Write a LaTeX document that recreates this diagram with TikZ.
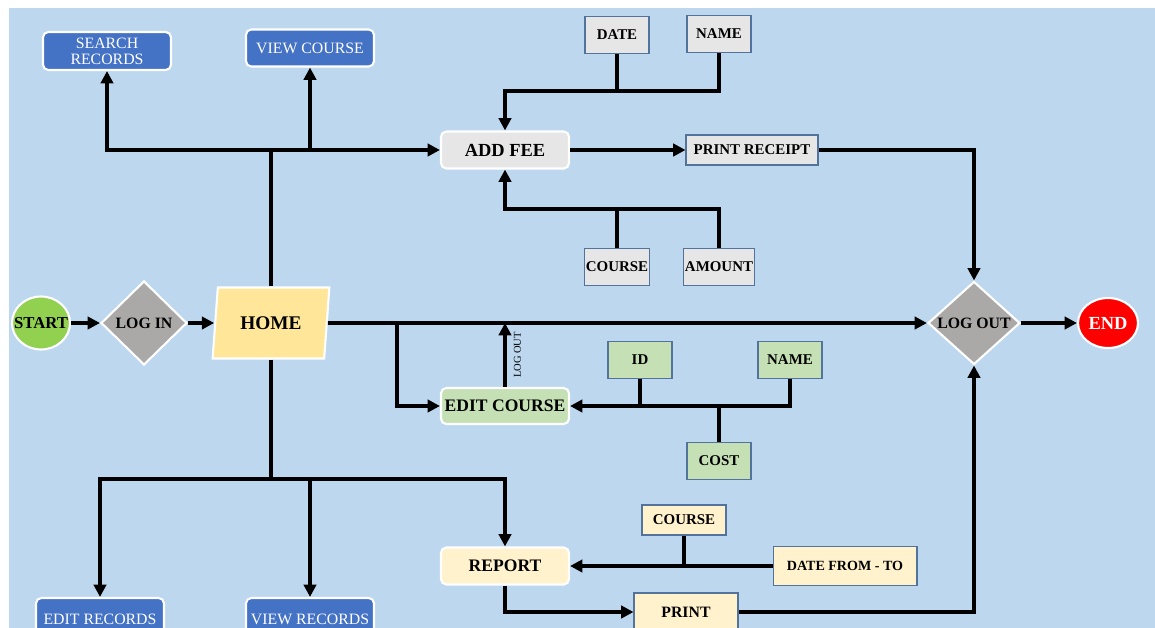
\documentclass[tikz,border=0pt]{standalone}
\usepackage{fontspec}
\setmainfont{Liberation Serif}
\usetikzlibrary{shapes.geometric, arrows.meta}

\definecolor{bgblue}{HTML}{BDD7EE}
\definecolor{boxblue}{HTML}{4472C4}
\definecolor{feegray}{HTML}{E7E6E6}
\definecolor{fieldedge}{HTML}{52739C}
\definecolor{diagray}{HTML}{ABA8A8}
\definecolor{startgreen}{HTML}{92D050}
\definecolor{homeyellow}{HTML}{FFE699}
\definecolor{editgreen}{HTML}{C5E0B4}
\definecolor{repcream}{HTML}{FFF2CC}
\definecolor{endred}{HTML}{FF0000}

\begin{document}
\begin{tikzpicture}[x=0.02cm, y=-0.02cm,
  link/.style={line width=2pt},
  arr/.style={link, -{Triangle[length=7pt, width=7pt]}},
  bluebox/.style={rectangle, rounded corners=3pt, draw=white, line width=1.2pt, fill=boxblue, text=white,
    minimum width=2.56cm, minimum height=0.76cm, inner sep=1pt, align=center, font=\fontsize{9}{9}\selectfont},
  procbox/.style={rectangle, rounded corners=3pt, draw=white, line width=1.2pt,
    minimum width=2.56cm, minimum height=0.74cm, inner sep=1pt, font=\fontsize{10}{12}\selectfont\bfseries},
  fieldbox/.style={rectangle, draw=fieldedge, line width=0.6pt,
    minimum width=1.28cm, minimum height=0.74cm, inner sep=1pt, font=\fontsize{8.5}{10}\selectfont\bfseries},
  decision/.style={diamond, aspect=1.1, draw=white, line width=1.2pt, fill=diagray, inner sep=0pt,
    font=\fontsize{9}{10}\selectfont\bfseries},
  terminal/.style={ellipse, draw=white, line width=1.2pt, inner sep=0pt, font=\bfseries}]

\clip (0,0) rectangle (1155,628);
\fill[white] (0,0) rectangle (1155,628);
\fill[bgblue] (9,8) rectangle (1155,628);

% main line
\node[terminal, fill=startgreen, minimum width=1.16cm, minimum height=1.06cm,
  font=\fontsize{9.5}{10}\selectfont\bfseries] (start) at (41,323) {\makebox[0pt]{START}};
\node[decision, minimum width=1.72cm, minimum height=1.68cm] (login) at (144,323) {LOG IN};
\node[trapezium, trapezium left angle=77, trapezium right angle=103, trapezium stretches=true,
  minimum width=2.34cm, minimum height=1.42cm, draw=white, line width=1.2pt, fill=homeyellow,
  inner sep=0pt, font=\fontsize{11}{12}\selectfont\bfseries] (home) at (271,323) {HOME};
\node[decision, minimum width=1.84cm, minimum height=1.66cm] (logout) at (974,323) {LOG OUT};
\node[terminal, fill=endred, text=white, minimum width=1.2cm, minimum height=1cm,
  font=\fontsize{10.5}{12}\selectfont\bfseries] (end) at (1108,323) {END};

% upper part
\node[bluebox] (search) at (107,51) {SEARCH\\RECORDS};
\node[bluebox, minimum height=0.74cm] (viewc) at (310,48) {VIEW COURSE};
\node[procbox, fill=feegray, font=\fontsize{10.5}{12}\selectfont\bfseries] (addfee) at (505,150) {ADD FEE};
\node[fieldbox, fill=feegray] (date) at (617,35) {DATE};
\node[fieldbox, fill=feegray] (fname) at (719,34) {NAME};
\node[fieldbox, fill=feegray] (fcourse) at (617,267) {COURSE};
\node[fieldbox, fill=feegray] (amount) at (719,267) {AMOUNT};
\node[fieldbox, fill=feegray, minimum width=2.64cm, minimum height=0.6cm] (receipt) at (752,150) {PRINT RECEIPT};

% edit course
\node[procbox, fill=editgreen, minimum height=0.72cm] (editc) at (505,406) {EDIT COURSE};
\node[fieldbox, fill=editgreen] (id) at (640,360) {ID};
\node[fieldbox, fill=editgreen] (cname) at (790,360) {NAME};
\node[fieldbox, fill=editgreen] (cost) at (719,461) {COST};

% lower part
\node[bluebox, minimum height=0.84cm] (editr) at (100,619) {EDIT RECORDS};
\node[bluebox, minimum height=0.84cm] (viewr) at (310,619) {VIEW RECORDS};
\node[procbox, fill=repcream] (report) at (505,566) {REPORT};
\node[fieldbox, fill=repcream, minimum width=1.68cm, minimum height=0.6cm] (rcourse) at (684,520) {COURSE};
\node[fieldbox, fill=repcream, minimum width=2.88cm, minimum height=0.78cm,
  font=\fontsize{8}{10}\selectfont\bfseries] (span) at (845,566) {DATE FROM - TO};
\node[fieldbox, fill=repcream, minimum width=2.08cm, minimum height=0.76cm,
  font=\fontsize{9}{10}\selectfont\bfseries] (print) at (686,612) {PRINT};

\coordinate (ebranch) at (397,323);
\coordinate (hsplit) at (273,479);
\coordinate (feein) at (505,91);
\coordinate (feeout) at (505,209);

\draw[arr] (start.east) -- (login.west);
\draw[arr] (login.east) -- (home.west);
\draw[arr] (home.east) -- (logout.west);
\draw[arr] (logout.east) -- (end.west);

\draw[arr] (home.north) |- (addfee.west);
\draw[arr] (home.north |- addfee.west) -| (search.south);
\draw[arr] (viewc.south |- addfee.west) -- (viewc.south);

\draw[arr] (fname.south) |- (feein) -- (addfee.north);
\draw[link] (date.south) -- (date.south |- feein);
\draw[arr] (amount.north) |- (feeout) -- (addfee.south);
\draw[link] (fcourse.north) -- (fcourse.north |- feeout);
\draw[arr] (addfee.east) -- (receipt.west);
\draw[arr] (receipt.east) -| (logout.north);

\draw[arr] (ebranch) |- (editc.west);
\draw[arr] (editc.north) -- (editc.north |- home.east)
  node[midway, anchor=north, rotate=90, inner sep=4pt, font=\fontsize{6}{7}\selectfont] {LOG OUT};
\draw[arr] (cname.south) |- (editc.east);
\draw[link] (id.south) -- (id.south |- editc.east);
\draw[link] (cost.north) -- (cost.north |- editc.east);

\draw[link] (home.south) -- (home.south |- hsplit);
\draw[arr] (home.south |- hsplit) -| (editr.north);
\draw[arr] (home.south |- hsplit) -| (report.north);
\draw[arr] (viewr.north |- hsplit) -- (viewr.north);

\draw[arr] (span.west) -- (report.east);
\draw[link] (rcourse.south) -- (rcourse.south |- report.east);
\draw[arr] (report.south) |- (print.west);
\draw[arr] (print.east) -| (logout.south);
\end{tikzpicture}
\end{document}
